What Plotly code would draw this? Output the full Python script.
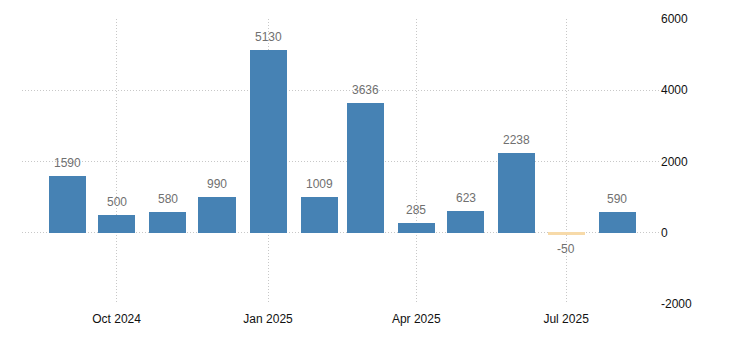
import plotly.graph_objects as go

months = ["2024-09-01", "2024-10-01", "2024-11-01", "2024-12-01", "2025-01-01", "2025-02-01",
          "2025-03-01", "2025-04-01", "2025-05-01", "2025-06-01", "2025-07-01", "2025-08-01"]
values = [1590, 500, 580, 990, 5130, 1009, 3636, 285, 623, 2238, -50, 590]
y_ticks = [-2000, 0, 2000, 4000, 6000]

POS = "#4682B4"
NEG = "#F7DAA9"
colors = [POS if v >= 0 else NEG for v in values]
DAY_MS = 86400000

fig = go.Figure()
fig.add_trace(go.Bar(
    x=months, y=values, marker_color=colors, marker_line_width=0,
    width=[22.5 * DAY_MS] * len(values), hoverinfo="skip",
))

for m, v in zip(months, values):
    fig.add_annotation(
        x=m, y=v, text=str(v), showarrow=False,
        yanchor="bottom" if v >= 0 else "top",
        yshift=4 if v >= 0 else -5,
        font=dict(family="Liberation Sans, Arial, sans-serif", size=12, color="#707070"),
    )

fig.update_layout(
    width=730, height=340,
    margin=dict(l=22, r=70, t=19, b=36),
    paper_bgcolor="white", plot_bgcolor="white",
    showlegend=False,
    bargap=0,
    font=dict(family="Liberation Sans, Arial, sans-serif", size=12, color="#111111"),
)
fig.update_xaxes(
    type="date",
    range=["2024-08-04 14:00", "2025-08-27"],
    tick0="2024-10-01", dtick="M3", tickformat="%b %Y",
    showgrid=True, gridcolor="#c8c8c8", griddash="1px,2px", gridwidth=1,
    showline=False, zeroline=False, ticks="", ticklabelstandoff=6,
)
fig.update_yaxes(
    range=[-2000, 6000], side="right",
    tickvals=y_ticks, ticktext=[str(t) for t in y_ticks],
    showgrid=True, gridcolor="#c8c8c8", griddash="1px,2px", gridwidth=1,
    showline=False, zeroline=False, ticks="", ticklabelstandoff=0,
)

fig.write_html("out.html")
